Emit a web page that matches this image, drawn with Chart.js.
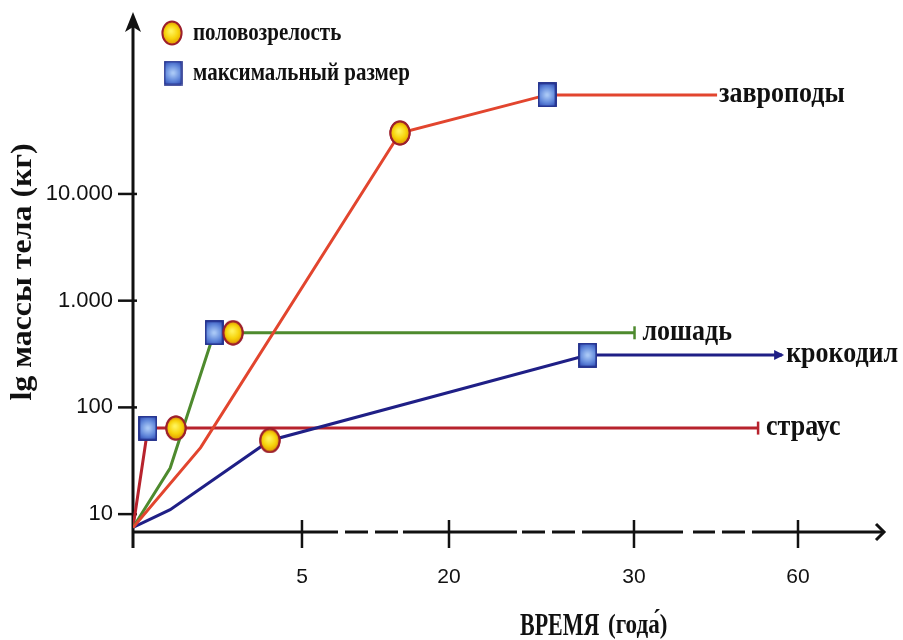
<!DOCTYPE html>
<html><head><meta charset="utf-8">
<script src="https://cdn.jsdelivr.net/npm/chart.js@4.4.1/dist/chart.umd.min.js"></script>
<style>html,body{margin:0;padding:0;background:#fff}canvas{display:block}</style>
</head><body>
<canvas id="c" width="903" height="640"></canvas>
<script>
// ---------------- DATA ----------------
const seriesNames = ['завроподы', 'лошадь', 'крокодил', 'страус'];

const sauropodYears = [0, 2.0, 15.0, 25.3, 45.2];
const sauropodMass  = [7.5, 42, 37300, 84700, 84700];
const sauropodMarks = [null, null, 'm', 's', null];

const horseYears = [0, 1.1, 2.4, 2.96, 30.1];
const horseMass  = [7.5, 27, 500, 500, 500];
const horseMarks = [null, null, 's', 'm', null];

const crocYears = [0, 1.1, 4.05, 27.5, 57.1];
const crocMass  = [7.5, 11, 49, 309, 309];
const crocMarks = [null, null, 'm', 's', null];

const ostrichYears = [0, 0.44, 1.27, 52.7];
const ostrichMass  = [7.5, 64, 64, 64];
const ostrichMarks = [null, 's', 'm', null];

const xTickValues = [5, 20, 30, 60];
const xTickLabels = ['5', '20', '30', '60'];
const yTickValues = [10, 100, 1000, 10000];
const yTickLabels = ['10', '100', '1.000', '10.000'];

const legendLabels = ['половозрелость', 'максимальный размер'];
const xTitleMain = 'ВРЕМЯ';
const xTitleUnit = '(года́)';
const yTitle = 'lg массы тела (кг)';

// ---------------- LAYOUT / STYLE ----------------
// broken time axis: where each break value sits along the axis (fraction of axis length)
const xBreakVals = [0, 5, 20, 30, 60];
const xBreakFrac = [0, 0.2247, 0.4202, 0.6662, 0.8843];
// solid / dashed pieces of the drawn x axis line (fractions of axis length)
const xAxisPieces = [[0,0.2726],[0.2819,0.3125],[0.3218,0.3524],[0.3590,0.5106],[0.5173,0.5479],[0.5572,0.5878],[0.5971,0.7314],[0.7447,0.7739],[0.7832,0.8138],[0.8231,1]];

function valueToFrac(v) {
  const n = xBreakVals.length;
  for (let i = 1; i < n; i++) {
    if (v <= xBreakVals[i]) {
      const t = (v - xBreakVals[i-1]) / (xBreakVals[i] - xBreakVals[i-1]);
      return xBreakFrac[i-1] + t * (xBreakFrac[i] - xBreakFrac[i-1]);
    }
  }
  const s = (xBreakFrac[n-1] - xBreakFrac[n-2]) / (xBreakVals[n-1] - xBreakVals[n-2]);
  return xBreakFrac[n-1] + (v - xBreakVals[n-1]) * s;
}
function fracToValue(f) {
  const n = xBreakVals.length;
  for (let i = 1; i < n; i++) {
    if (f <= xBreakFrac[i]) {
      const t = (f - xBreakFrac[i-1]) / (xBreakFrac[i] - xBreakFrac[i-1]);
      return xBreakVals[i-1] + t * (xBreakVals[i] - xBreakVals[i-1]);
    }
  }
  const s = (xBreakVals[n-1] - xBreakVals[n-2]) / (xBreakFrac[n-1] - xBreakFrac[n-2]);
  return xBreakVals[n-1] + (f - xBreakFrac[n-1]) * s;
}

class BrokenTimeScale extends Chart.LinearScale {
  getPixelForValue(v) { return this.left + this.width * valueToFrac(v); }
  getValueForPixel(p) { return fracToValue((p - this.left) / this.width); }
}
BrokenTimeScale.id = 'brokenTime';
BrokenTimeScale.defaults = Chart.LinearScale.defaults;
Chart.register(BrokenTimeScale);

// marker images
function makeCircle() {
  const c = document.createElement('canvas'); c.width = 22; c.height = 26;
  const g = c.getContext('2d');
  const gr = g.createRadialGradient(10, 11, 1, 11, 13, 11);
  gr.addColorStop(0, '#fff35a'); gr.addColorStop(0.55, '#f7d40c'); gr.addColorStop(1, '#e29a00');
  g.beginPath(); g.ellipse(11, 13, 9.6, 11.6, 0, 0, Math.PI*2);
  g.fillStyle = gr; g.fill();
  g.lineWidth = 2; g.strokeStyle = '#9c1f2c'; g.stroke();
  return c;
}
function makeSquare() {
  const c = document.createElement('canvas'); c.width = 19; c.height = 25;
  const g = c.getContext('2d');
  const gr = g.createRadialGradient(9.5, 12.5, 1, 9.5, 12.5, 13);
  gr.addColorStop(0, '#a9c8f6'); gr.addColorStop(0.6, '#5f86da'); gr.addColorStop(1, '#3552b8');
  g.fillStyle = gr; g.fillRect(1, 1, 17, 23);
  g.lineWidth = 1.6; g.strokeStyle = '#24318c'; g.strokeRect(1, 1, 17, 23);
  return c;
}
const markImg = { m: makeCircle(), s: makeSquare() };

const series = [
  { name: seriesNames[0], x: sauropodYears, y: sauropodMass, marks: sauropodMarks, color: '#e2452e', end: 'none' },
  { name: seriesNames[1], x: horseYears,    y: horseMass,    marks: horseMarks,    color: '#4e8a2e', end: 'bar' },
  { name: seriesNames[2], x: crocYears,     y: crocMass,     marks: crocMarks,     color: '#1f1f86', end: 'arrow' },
  { name: seriesNames[3], x: ostrichYears,  y: ostrichMass,  marks: ostrichMarks,  color: '#b7232d', end: 'bar' }
];

function stretchedText(ctx, text, x, y, font, sx, sy, align, baseline) {
  ctx.save();
  ctx.translate(x, y); ctx.scale(sx, sy);
  ctx.font = font; ctx.textAlign = align || 'left'; ctx.textBaseline = baseline || 'middle';
  ctx.fillStyle = '#111';
  ctx.fillText(text, 0, 0);
  ctx.restore();
}

const SERIF = '"Liberation Serif", "DejaVu Serif", serif';

const deco = {
  id: 'deco',
  beforeDatasetsDraw(chart) {
    const { ctx, chartArea: a, scales: { x, y } } = chart;
    ctx.save();
    ctx.strokeStyle = '#111'; ctx.fillStyle = '#111'; ctx.lineCap = 'butt';
    // y axis
    ctx.lineWidth = 3;
    ctx.beginPath(); ctx.moveTo(a.left, a.bottom + 16); ctx.lineTo(a.left, a.top + 10); ctx.stroke();
    ctx.beginPath();
    ctx.moveTo(a.left, a.top - 3); ctx.lineTo(a.left - 8, a.top + 17); ctx.lineTo(a.left, a.top + 12); ctx.lineTo(a.left + 8, a.top + 17);
    ctx.closePath(); ctx.fill();
    // x axis (broken)
    const W = a.right - a.left;
    xAxisPieces.forEach(p => {
      ctx.beginPath(); ctx.moveTo(a.left + p[0]*W, a.bottom); ctx.lineTo(a.left + p[1]*W - (p[1] === 1 ? 3 : 0), a.bottom); ctx.stroke();
    });
    ctx.beginPath(); ctx.moveTo(a.right - 9, a.bottom - 8); ctx.lineTo(a.right - 1, a.bottom); ctx.lineTo(a.right - 9, a.bottom + 8); ctx.stroke();
    // tick marks
    ctx.lineWidth = 2.5;
    xTickValues.forEach(v => {
      const px = x.getPixelForValue(v);
      ctx.beginPath(); ctx.moveTo(px, a.bottom - 12); ctx.lineTo(px, a.bottom + 16); ctx.stroke();
    });
    yTickValues.forEach(v => {
      const py = y.getPixelForValue(v);
      ctx.beginPath(); ctx.moveTo(a.left - 15, py); ctx.lineTo(a.left + 4, py); ctx.stroke();
    });
    ctx.restore();
  },
  afterDatasetsDraw(chart) {
    const { ctx, chartArea: a } = chart;
    // end caps and labels
    series.forEach((s, di) => {
      const meta = chart.getDatasetMeta(di);
      const last = meta.data[meta.data.length - 1];
      ctx.save();
      ctx.strokeStyle = s.color; ctx.fillStyle = s.color; ctx.lineWidth = 2.5;
      let gap = 2;
      if (s.end === 'bar') {
        ctx.beginPath(); ctx.moveTo(last.x, last.y - 6.5); ctx.lineTo(last.x, last.y + 6.5); ctx.stroke();
        gap = 8;
      } else if (s.end === 'arrow') {
        ctx.beginPath(); ctx.moveTo(last.x + 2, last.y); ctx.lineTo(last.x - 8, last.y - 5); ctx.lineTo(last.x - 8, last.y + 5); ctx.closePath(); ctx.fill();
        gap = 4;
      }
      ctx.restore();
      stretchedText(ctx, s.name, last.x + gap, last.y - 1, 'bold 26px ' + SERIF, 1, 1.15, 'left', 'middle');
    });
    // markers on top of all lines
    series.forEach((s, di) => {
      const meta = chart.getDatasetMeta(di);
      meta.data.forEach((pt, i) => { if (s.marks[i]) pt.draw(ctx, a); });
    });
  },
  afterDraw(chart) {
    const { ctx } = chart;
    // legend
    ctx.drawImage(markImg.m, 172 - 11, 33 - 13);
    ctx.drawImage(markImg.s, 173 - 9.5, 73 - 12.5);
    stretchedText(ctx, legendLabels[0], 193, 33, 'bold 21px ' + SERIF, 1, 1.2, 'left', 'middle');
    stretchedText(ctx, legendLabels[1], 193, 73, 'bold 21px ' + SERIF, 1, 1.2, 'left', 'middle');
    // x title
    stretchedText(ctx, xTitleMain, 520, 635, 'bold 22px ' + SERIF, 1, 1.4, 'left', 'alphabetic');
    stretchedText(ctx, xTitleUnit, 608, 633, 'bold 22px ' + SERIF, 1.05, 1.2, 'left', 'alphabetic');
    // y title
    ctx.save();
    ctx.translate(24, 272); ctx.rotate(-Math.PI / 2); ctx.scale(1.1, 1);
    ctx.font = 'bold 29px ' + SERIF; ctx.textAlign = 'center'; ctx.textBaseline = 'middle'; ctx.fillStyle = '#111';
    ctx.fillText(yTitle, 0, 0);
    ctx.restore();
  }
};

new Chart(document.getElementById('c'), {
  type: 'line',
  data: {
    datasets: series.map(s => ({
      label: s.name,
      data: s.x.map((xv, i) => ({ x: xv, y: s.y[i] })),
      borderColor: s.color,
      backgroundColor: s.color,
      borderWidth: 3,
      tension: 0,
      fill: false,
      pointStyle: ctx => markImg[s.marks[ctx.dataIndex]] || 'circle',
      pointRadius: ctx => s.marks[ctx.dataIndex] ? 10 : 0,
      pointHoverRadius: ctx => s.marks[ctx.dataIndex] ? 10 : 0
    }))
  },
  options: {
    responsive: false,
    animation: false,
    devicePixelRatio: 1,
    layout: { padding: { left: 0, right: 18, top: 15, bottom: 0 } },
    plugins: { legend: { display: false }, tooltip: { enabled: false } },
    events: [],
    scales: {
      x: {
        type: 'brokenTime',
        min: 0, max: 65,
        afterBuildTicks: sc => { sc.ticks = xTickValues.map(v => ({ value: v })); },
        afterFit: sc => { sc.height = 108; sc.paddingLeft = 0; sc.paddingRight = 0; },
        grid: { display: false, drawTicks: true, tickLength: 16 },
        border: { display: false },
        ticks: {
          autoSkip: false, maxRotation: 0, padding: 17,
          color: '#111',
          font: { family: '"Liberation Sans", Arial, sans-serif', size: 21 },
          callback: (v) => { const i = xTickValues.indexOf(v); return i >= 0 ? xTickLabels[i] : ''; }
        }
      },
      y: {
        type: 'logarithmic',
        min: 6.8, max: 475000,
        afterBuildTicks: sc => { sc.ticks = yTickValues.map(v => ({ value: v })); },
        afterFit: sc => { sc.width = 133; sc.paddingTop = 0; sc.paddingBottom = 0; },
        grid: { display: false, drawTicks: true, tickLength: 15 },
        border: { display: false },
        ticks: {
          autoSkip: false, padding: 5,
          color: '#111',
          font: { family: '"Liberation Sans", Arial, sans-serif', size: 22 },
          callback: (v) => { const i = yTickValues.indexOf(v); return i >= 0 ? yTickLabels[i] : ''; }
        }
      }
    }
  },
  plugins: [deco]
});
</script>
</body></html>
